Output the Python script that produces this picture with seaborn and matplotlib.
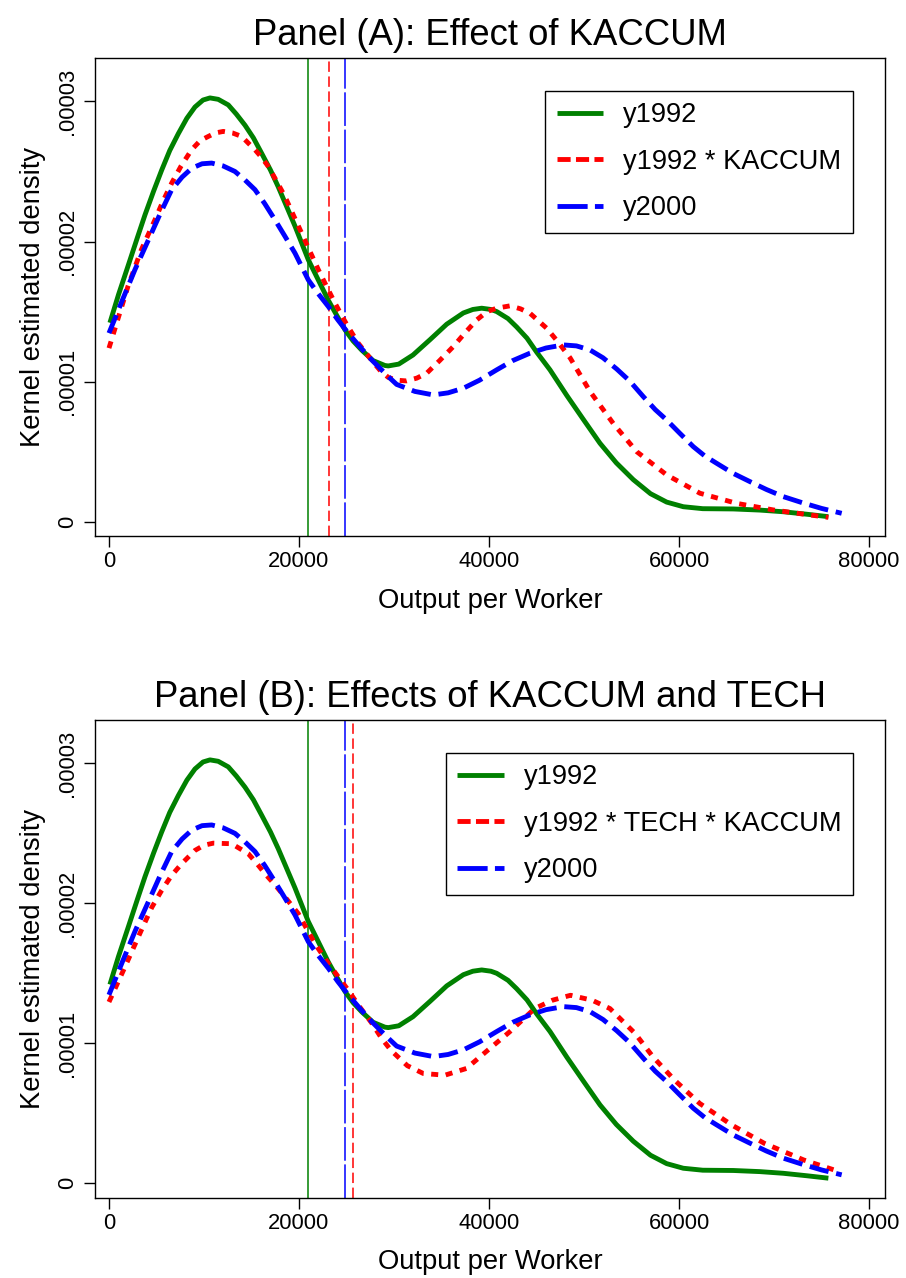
import numpy as np
import pandas as pd
import matplotlib
matplotlib.use("Agg")
import matplotlib.pyplot as plt
from matplotlib.lines import Line2D
import seaborn as sns

# ---------------- data (density values in units of 1e-5) ----------------
y1992_x = [100, 1000, 2030, 3000, 3790, 4700, 5550, 6400, 7300, 8200, 9050, 9900,
           10630, 11500, 12560, 13400, 14320, 15200, 16070, 17000, 17820, 18700,
           19580, 20980, 22000, 23090, 24000, 24840, 25700, 26600, 27800, 29050,
           29400, 30500, 32000, 33800, 35550, 37300, 38300, 39230, 40200, 40810,
           42000, 42910, 44000, 45020, 46420, 48200, 49930, 51680, 53400, 55190,
           57000, 58700, 60450, 62500, 65720, 68500, 70980, 73500, 75720]
y1992_d = [1.42, 1.62, 1.83, 2.03, 2.19, 2.36, 2.51, 2.65, 2.77, 2.88, 2.96, 3.01,
           3.025, 3.015, 2.975, 2.91, 2.83, 2.74, 2.63, 2.51, 2.39, 2.25,
           2.11, 1.87, 1.73, 1.58, 1.47, 1.37, 1.29, 1.225, 1.15, 1.115,
           1.112, 1.125, 1.19, 1.30, 1.41, 1.49, 1.515, 1.524, 1.515, 1.50,
           1.45, 1.39, 1.31, 1.21, 1.084, 0.90, 0.73, 0.56, 0.42, 0.30,
           0.20, 0.14, 0.107, 0.093, 0.091, 0.083, 0.071, 0.053, 0.036]

kaccum_x = [0, 1000, 2000, 3400, 4840, 5700, 6600, 7600, 8700, 9600, 10450, 11200,
            12030, 13000, 13970, 14700, 15370, 16070, 16770, 17650, 18530, 19400,
            20280, 21150, 22030, 22900, 23790, 25000, 26240, 27800, 28600, 29400,
            30300, 31300, 32400, 33440, 34800, 36240, 37500, 38700, 39800, 40810,
            42210, 43300, 44310, 46070, 47300, 48530, 50630, 53090, 55550, 58700,
            62210, 66070, 69930, 73000, 75720]
kaccum_d = [1.239, 1.46, 1.68, 1.94, 2.155, 2.29, 2.417, 2.54, 2.655, 2.72, 2.75, 2.775,
            2.786, 2.775, 2.75, 2.70, 2.655, 2.60, 2.536, 2.43, 2.32, 2.19,
            2.06, 1.93, 1.80, 1.68, 1.56, 1.41, 1.274, 1.14, 1.075, 1.03,
            1.01, 1.005, 1.025, 1.06, 1.15, 1.25, 1.35, 1.44, 1.50, 1.524,
            1.541, 1.52, 1.488, 1.381, 1.28, 1.17, 0.93, 0.70, 0.50, 0.334,
            0.203, 0.131, 0.084, 0.055, 0.031]

y2000_x = [0, 1400, 2740, 4140, 5400, 6600, 7700, 8730, 9800, 10810, 12000, 13260,
           14300, 15370, 16400, 17470, 18500, 19580, 20980, 22000, 23090, 24100,
           25190, 26400, 27650, 29400, 30280, 32200, 34140, 35700, 37300, 39000,
           40810, 42500, 44310, 46000, 47820, 49200, 50630, 52000, 53440, 54800,
           56240, 57500, 58700, 60100, 61500, 62700, 63960, 65700, 67470, 69200,
           70980, 73000, 75000, 77120]
y2000_d = [1.346, 1.58, 1.80, 2.01, 2.20, 2.37, 2.46, 2.524, 2.555, 2.56, 2.54, 2.50,
           2.44, 2.37, 2.27, 2.155, 2.04, 1.917, 1.726, 1.63, 1.536, 1.44,
           1.346, 1.25, 1.155, 1.036, 0.98, 0.93, 0.905, 0.92, 0.953, 1.01,
           1.084, 1.15, 1.203, 1.24, 1.262, 1.255, 1.226, 1.17, 1.09, 1.005,
           0.893, 0.80, 0.726, 0.63, 0.536, 0.47, 0.417, 0.345, 0.286, 0.23,
           0.179, 0.135, 0.095, 0.06]

tech_x = [0, 1680, 3400, 4500, 5550, 6600, 7650, 9050, 10000, 10980, 12910, 13800,
          14660, 15500, 16420, 17500, 18530, 19930, 21680, 23090, 25190, 26280,
          27650, 28700, 29680, 31400, 33090, 35360, 37620, 39880, 42160, 44800,
          46690, 48580, 50840, 52730, 55380, 57260, 59530, 62180, 65580, 68980,
          73130, 76910]
tech_d = [1.295, 1.545, 1.807, 1.97, 2.093, 2.20, 2.283, 2.378, 2.415, 2.43, 2.426, 2.39,
          2.355, 2.29, 2.212, 2.13, 2.045, 1.926, 1.712, 1.57, 1.379, 1.27,
          1.145, 1.035, 0.95, 0.84, 0.784, 0.772, 0.82, 0.951, 1.081, 1.248,
          1.308, 1.343, 1.308, 1.248, 1.07, 0.903, 0.737, 0.57, 0.415, 0.285,
          0.166, 0.082]

# vertical reference lines (means)
mean_y1992 = 20950
mean_kaccum = 23160
mean_y2000 = 24840
mean_tech = 25650

titles = ["Panel (A): Effect of KACCUM", "Panel (B): Effects of KACCUM and TECH"]
labels_a = ["y1992", "y1992 * KACCUM", "y2000"]
labels_b = ["y1992", "y1992 * TECH * KACCUM", "y2000"]
xticks = [0, 20000, 40000, 60000, 80000]
xtick_labels = ["0", "20000", "40000", "60000", "80000"]
yticks = [0, 0.00001, 0.00002, 0.00003]
ytick_labels = ["0", ".00001", ".00002", ".00003"]
xlabel = "Output per Worker"
ylabel = "Kernel estimated density"

# ---------------- style ----------------
sns.set_theme(style="white")
plt.rcParams["font.family"] = ["Liberation Sans", "DejaVu Sans"]
plt.rcParams["axes.edgecolor"] = "black"
plt.rcParams["axes.linewidth"] = 1.0
plt.rcParams["text.color"] = "black"
plt.rcParams["axes.labelcolor"] = "black"
plt.rcParams["axes.titlecolor"] = "black"
plt.rcParams["xtick.color"] = "black"
plt.rcParams["ytick.color"] = "black"
plt.rcParams["xtick.labelcolor"] = "black"
plt.rcParams["ytick.labelcolor"] = "black"

GREEN = "#008000"
RED = "#FF0000"
BLUE = "#0000FF"
LW = 3.5
red_ls = (0, (1.45, 1.55))
blue_ls = (0, (4.0, 1.6))

fig = plt.figure(figsize=(9.06, 12.78), dpi=100)
W, H = 906, 1278
ax_a = fig.add_axes([95 / W, 1 - 536 / H, 790 / W, 478 / H])
ax_b = fig.add_axes([95 / W, 1 - 1197.5 / H, 790 / W, 477.5 / H])


def draw_panel(ax, alt_x, alt_d, alt_mean, title, labels):
    # vertical mean lines
    ax.axvline(mean_y1992, color=GREEN, lw=1.1, zorder=1)
    ax.axvline(alt_mean, color=RED, lw=1.1, linestyle=(0, (6.8, 3.0)), zorder=1)
    ax.axvline(mean_y2000, color=BLUE, lw=1.1, linestyle=(0, (22, 2.4)), zorder=1)

    d1 = pd.DataFrame({"x": y1992_x, "y": np.array(y1992_d) * 1e-5})
    d2 = pd.DataFrame({"x": alt_x, "y": np.array(alt_d) * 1e-5})
    d3 = pd.DataFrame({"x": y2000_x, "y": np.array(y2000_d) * 1e-5})
    sns.lineplot(data=d1, x="x", y="y", ax=ax, color=GREEN, lw=LW,
                 estimator=None, sort=False, zorder=3, solid_capstyle="butt",
                 solid_joinstyle="round")
    sns.lineplot(data=d2, x="x", y="y", ax=ax, color=RED, lw=LW,
                 linestyle=red_ls, estimator=None, sort=False, zorder=4,
                 dash_capstyle="butt")
    sns.lineplot(data=d3, x="x", y="y", ax=ax, color=BLUE, lw=LW,
                 linestyle=blue_ls, estimator=None, sort=False, zorder=5,
                 dash_capstyle="butt")

    ax.set_xlim(-1470, 81680)
    ax.set_ylim(-1.02e-6, 3.31e-5)
    ax.set_xticks(xticks)
    ax.set_xticklabels(xtick_labels, fontsize=15.8, color="black")
    ax.set_yticks(yticks)
    ax.set_yticklabels(ytick_labels, fontsize=15.8, rotation=90, va="center",
                       color="black")
    ax.tick_params(axis="both", direction="out", length=8, width=1.0,
                   color="black", bottom=True, left=True)
    ax.tick_params(axis="x", pad=3)
    ax.tick_params(axis="y", pad=4)
    ax.set_xlabel(xlabel, fontsize=19.7, labelpad=11, color="black")
    ax.set_ylabel(ylabel, fontsize=19.7, labelpad=8, color="black")
    ax.set_title(title, fontsize=26.3, pad=9.5, color="black")
    for s in ax.spines.values():
        s.set_color("black")
        s.set_linewidth(1.0)

    handles = [
        Line2D([], [], color=GREEN, lw=LW, solid_capstyle="butt"),
        Line2D([], [], color=RED, lw=LW, linestyle=(0, (2.7, 1.1)), dash_capstyle="butt"),
        Line2D([], [], color=BLUE, lw=LW, linestyle=(0, (6.2, 1.5)), dash_capstyle="butt"),
    ]
    leg = ax.legend(handles, labels, loc="upper right",
                    bbox_to_anchor=(0.9595, 0.931), fontsize=19.6,
                    frameon=True, fancybox=False, framealpha=1,
                    edgecolor="black", handlelength=1.7, handletextpad=0.75,
                    labelspacing=0.75, borderpad=0.42, borderaxespad=0)
    leg.get_frame().set_linewidth(1.0)
    for t in leg.get_texts():
        t.set_color("black")


draw_panel(ax_a, kaccum_x, kaccum_d, mean_kaccum, titles[0], labels_a)
draw_panel(ax_b, tech_x, tech_d, mean_tech, titles[1], labels_b)

fig.savefig("out.png", dpi=100, facecolor="white")
